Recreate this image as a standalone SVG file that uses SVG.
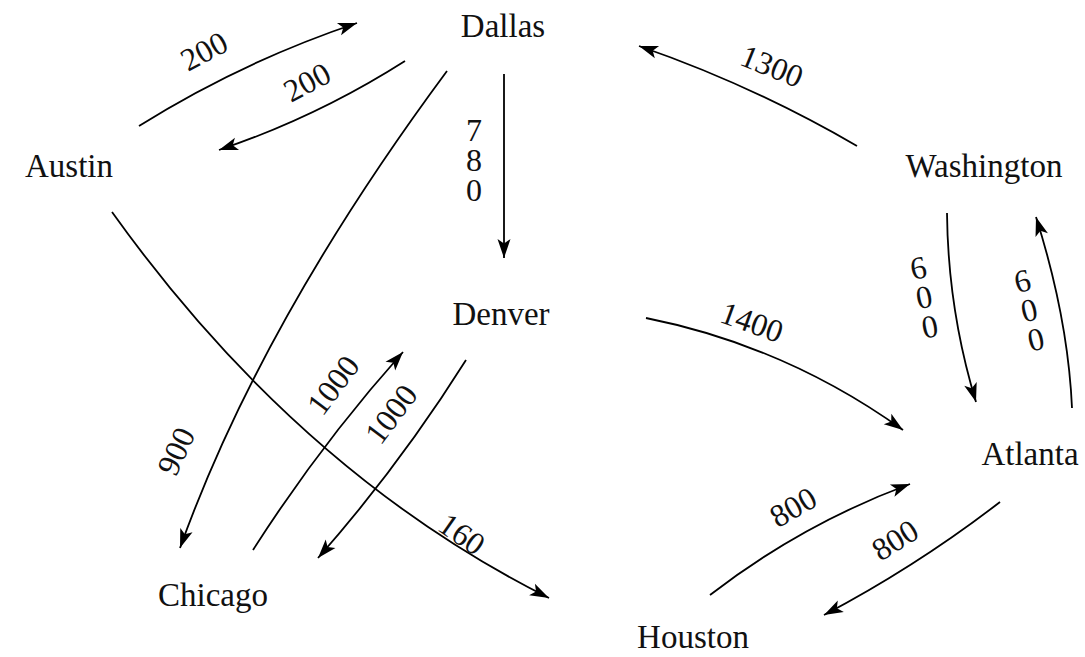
<svg xmlns="http://www.w3.org/2000/svg" width="1085" height="657" viewBox="0 0 1085 657">
<defs>
<marker id="ah" markerUnits="userSpaceOnUse" markerWidth="22" markerHeight="14" refX="19" refY="6.5" orient="auto" overflow="visible">
<path d="M0,0 L19,6.5 L0,13 L4.5,6.5 z" fill="#000"/>
</marker>
<style>
.node{font-family:"Liberation Serif","Times New Roman",serif;font-size:33px;fill:#111;text-anchor:middle}
.lbl{font-family:"Liberation Serif","Times New Roman",serif;font-size:32px;fill:#111;text-anchor:middle;dominant-baseline:central}
.e{fill:none;stroke:#000;stroke-width:1.8;marker-end:url(#ah)}
</style>
</defs>
<rect width="1085" height="657" fill="#fff"/>
<g id="connectors">
<path class="e" d="M139,126 Q241,62 357,23"/>
<path class="e" d="M405,61 Q317,117 219,150"/>
<path class="e" d="M447,71 Q261,322 180,548"/>
<path class="e" d="M504,74 L504,258"/>
<path class="e" d="M112,212 Q298,472 549,598"/>
<path class="e" d="M253,550 Q320,445 403,352"/>
<path class="e" d="M466,360 Q400,465 318,558"/>
<path class="e" d="M857,146 Q752,85 639,46"/>
<path class="e" d="M646,318 Q786,346 903,430"/>
<path class="e" d="M947,213 Q948,310 976,402"/>
<path class="e" d="M1072,408 Q1068,318 1036,217"/>
<path class="e" d="M710,595 Q802,524 910,484"/>
<path class="e" d="M1000,502 Q917,566 824,615"/>
</g>
<g id="labels">
<text class="lbl" transform="rotate(-28 204 51)" x="204" y="51">200</text>
<text class="lbl" transform="rotate(-28 307 82)" x="307" y="82">200</text>
<text class="lbl"><tspan x="474" y="130">7</tspan><tspan x="474" y="160">8</tspan><tspan x="474" y="190">0</tspan></text>
<text class="lbl" transform="rotate(22 772 66)" x="772" y="66">1300</text>
<text class="lbl" transform="rotate(20 752 322)" x="752" y="322">1400</text>
<text class="lbl" transform="rotate(-65 176 451)" x="176" y="451">900</text>
<text class="lbl" transform="rotate(-53 333 385)" x="333" y="385">1000</text>
<text class="lbl" transform="rotate(-53 391 414)" x="391" y="414">1000</text>
<text class="lbl" transform="rotate(35 462 534)" x="462" y="534">160</text>
<text class="lbl" transform="rotate(-11 924 297)"><tspan x="924" y="267">6</tspan><tspan x="924" y="297">0</tspan><tspan x="924" y="327">0</tspan></text>
<text class="lbl" transform="rotate(-13 1029 310)"><tspan x="1029" y="280">6</tspan><tspan x="1029" y="310">0</tspan><tspan x="1029" y="340">0</tspan></text>
<text class="lbl" transform="rotate(-30 793 507)" x="793" y="507">800</text>
<text class="lbl" transform="rotate(-32 895 540)" x="895" y="540">800</text>
</g>
<g id="dallas"><text class="node" x="503" y="37">Dallas</text></g>
<g id="austin"><text class="node" x="69" y="177">Austin</text></g>
<g id="washington"><text class="node" x="984" y="177">Washington</text></g>
<g id="denver"><text class="node" x="501" y="325">Denver</text></g>
<g id="chicago"><text class="node" x="213" y="606">Chicago</text></g>
<g id="houston"><text class="node" x="693" y="648">Houston</text></g>
<g id="atlanta"><text class="node" x="1030" y="465">Atlanta</text></g>
</svg>
